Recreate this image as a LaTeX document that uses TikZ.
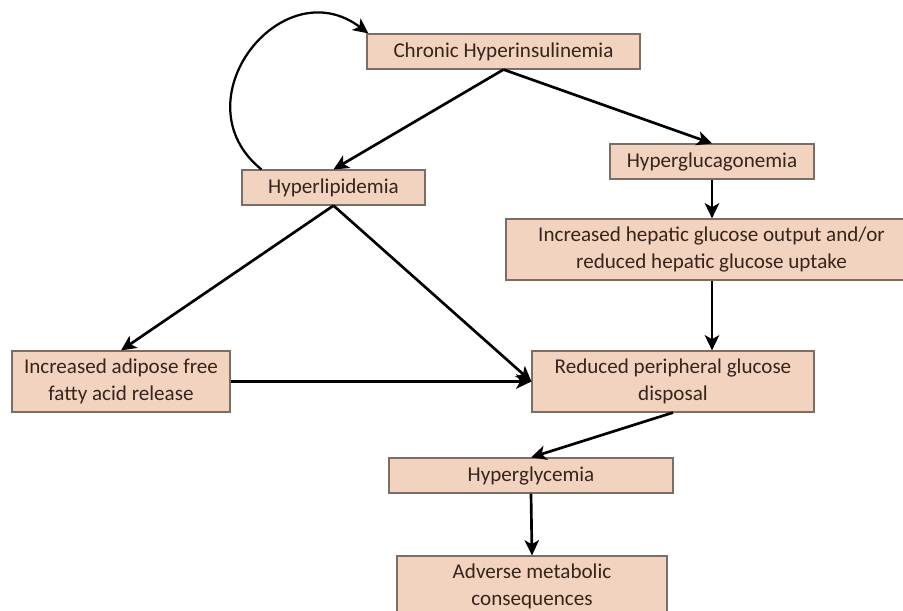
\documentclass[tikz,border=0pt]{standalone}
\usepackage{fontspec}
\setmainfont{Carlito}
\usepackage{tikz}
\usetikzlibrary{positioning,arrows.meta}
\definecolor{boxfill}{RGB}{242,211,192}
\definecolor{boxrule}{RGB}{125,110,100}
\definecolor{boxtext}{RGB}{55,36,26}
\tikzset{
  stage/.style={rectangle,draw=boxrule,line width=0.8pt,fill=boxfill,text=boxtext,align=center,inner sep=0pt,font=\fontsize{15}{19.5}\selectfont},
  edge/.style={-{Stealth[length=3.8mm,width=3.6mm,inset=1mm]},line width=1.9pt}
}

\begin{document}
\begin{tikzpicture}[x=0.025cm,y=0.025cm]
  \useasboundingbox (0,0) rectangle (903,-611);
  \node[stage,minimum width=6.825cm,minimum height=0.875cm] (chi) at (503.5,-51.5) {Chronic Hyperinsulinemia};
  \node[stage,minimum width=5.1cm,minimum height=0.875cm] (glucagon) at (712,-161.5) {Hyperglucagonemia};
  \node[stage,minimum width=10.275cm,minimum height=1.525cm] (hepatic) at (711.5,-249.5) {Increased hepatic glucose output and/or\\reduced hepatic glucose uptake};
  \node[stage,minimum width=4.575cm,minimum height=0.875cm] (lipid) at (333.5,-187.5) {Hyperlipidemia};
  \node[stage,minimum width=5.45cm,minimum height=1.525cm] (ffa) at (121,-381.5) {Increased adipose free\\fatty acid release};
  \node[stage,minimum width=7.05cm,minimum height=1.525cm] (reduced) at (673,-381.5) {Reduced peripheral glucose\\disposal};
  \node[stage,minimum width=7.1cm,minimum height=0.875cm] (glycemia) at (531,-475.5) {Hyperglycemia};
  \node[stage,minimum width=6.75cm,minimum height=1.525cm] (adverse) at (532,-586.5) {Adverse metabolic\\consequences};

  \draw[edge] (chi.south) -- (lipid.north);
  \draw[edge] (chi.south) -- (glucagon.north);
  \draw[edge] (glucagon.south) -- (glucagon.south |- hepatic.north);
  \draw[edge] (glucagon.south |- hepatic.south) -- (glucagon.south |- reduced.north);
  \draw[edge] (lipid.south) -- (ffa.north);
  \draw[edge] (lipid.south) -- (reduced.west);
  \draw[edge] (ffa.east) -- (reduced.west);
  \draw[edge] (reduced.south) -- (glycemia.north);
  \draw[edge] (glycemia.south) -- (adverse.north);
  % feedback loop
  \draw[edge,line width=1.6pt] ([xshift=0.5cm]lipid.north west) to[out=141,in=143,looseness=1.6] ([xshift=0.05cm]chi.north west);
\end{tikzpicture}
\end{document}
